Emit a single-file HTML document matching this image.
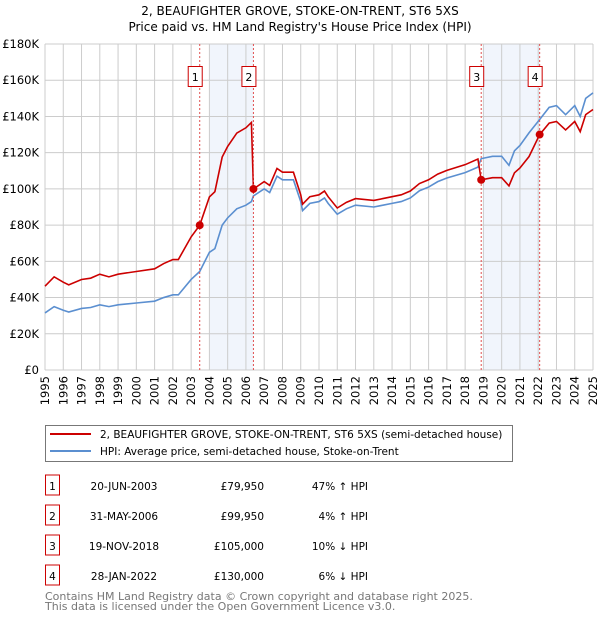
<!DOCTYPE html>
<html><head><meta charset="utf-8"><style>
body{margin:0;background:#fff;font-family:"DejaVu Sans","Liberation Sans",sans-serif;}
svg{display:block}
text{font-family:"DejaVu Sans","Liberation Sans",sans-serif;}
</style></head><body>
<svg id="c" width="600" height="620" viewBox="0 0 600 620">
<text x="300" y="15" text-anchor="middle" font-size="12">2, BEAUFIGHTER GROVE, STOKE-ON-TRENT, ST6 5XS</text>
<text x="300" y="31" text-anchor="middle" font-size="12">Price paid vs. HM Land Registry's House Price Index (HPI)</text>
<g id="grid"></g><g id="marks"></g>
<g>
<rect x="45.5" y="425.5" width="467" height="36" fill="#fff" stroke="#777"/>
<line x1="50" y1="434" x2="91" y2="434" stroke="#cc0000" stroke-width="2"/>
<text x="100" y="438" font-size="10.5">2, BEAUFIGHTER GROVE, STOKE-ON-TRENT, ST6 5XS (semi-detached house)</text>
<line x1="50" y1="451" x2="91" y2="451" stroke="#5b8fd0" stroke-width="2"/>
<text x="100" y="455" font-size="10.5">HPI: Average price, semi-detached house, Stoke-on-Trent</text>
</g>
<g id="table"></g>
<text x="45" y="600" font-size="11" fill="#777">Contains HM Land Registry data © Crown copyright and database right 2025.</text>
<text x="45" y="610" font-size="11" fill="#777">This data is licensed under the Open Government Licence v3.0.</text>
</svg>
<script>
const hpiYears=[1995,1995.5,1996,1996.3,1997,1997.5,1998,1998.5,1999,2000,2001,2001.5,2002,2002.3,2003,2003.47,2004,2004.3,2004.7,2005,2005.5,2006,2006.3,2006.41,2007,2007.3,2007.7,2008,2008.6,2009,2009.1,2009.5,2010,2010.3,2010.5,2011,2011.5,2012,2013,2013.5,2014,2014.5,2015,2015.5,2016,2016.5,2017,2018,2018.7,2018.88,2019.5,2020,2020.4,2020.7,2021,2021.5,2022.08,2022.6,2023,2023.5,2024,2024.3,2024.6,2025];
const hpiValues=[31.5,35,33,32,34,34.5,36,35,36,37,38,40,41.5,41.5,50,54.4,65,67,80,84,89,91,93,96.1,100,98,107,105,105,93,88,92,93,95,92,86,89,91,90,91,92,93,95,99,101,104,106,109,112,116.7,118,118,113,121,124,131,138.3,145,146,141,146,140,150,153];
const saleYears=[2003.47,2006.41,2018.88,2022.08];
const salePrices=[79.95,99.95,105,130];
const saleDates=["20-JUN-2003","31-MAY-2006","19-NOV-2018","28-JAN-2022"];
const salePriceLabels=["£79,950","£99,950","£105,000","£130,000"];
const salePctLabels=["47% ↑ HPI","4% ↑ HPI","10% ↓ HPI","6% ↓ HPI"];
const yTicks=[0,20,40,60,80,100,120,140,160,180];
const xTicks=[1995,1996,1997,1998,1999,2000,2001,2002,2003,2004,2005,2006,2007,2008,2009,2010,2011,2012,2013,2014,2015,2016,2017,2018,2019,2020,2021,2022,2023,2024,2025];
const X0=45,X1=593,Y0=370,Y1=44;
const xs=y=>X0+(y-1995)/30*(X1-X0);
const ys=v=>Y0-v/180*(Y0-Y1);
const NS="http://www.w3.org/2000/svg";
function mk(t,a,p){const e=document.createElementNS(NS,t);for(const k in a)e.setAttribute(k,a[k]);p.appendChild(e);return e;}
const G=document.getElementById('grid'),M=document.getElementById('marks'),T=document.getElementById('table');
function hpiAt(y){for(let i=1;i<hpiYears.length;i++){if(y<=hpiYears[i]){const t=(y-hpiYears[i-1])/(hpiYears[i]-hpiYears[i-1]);return hpiValues[i-1]+t*(hpiValues[i]-hpiValues[i-1]);}}return hpiValues[hpiValues.length-1];}
[[0,1],[2,3]].forEach((p,i)=>{const a=Math.ceil(saleYears[p[0]]);const r=mk('rect',{x:xs(a),y:Y1,width:xs(saleYears[p[1]])-xs(a),height:Y0-Y1,fill:'#eef2fb',opacity:0.8},G);

});
yTicks.forEach(v=>{const l=mk('line',{x1:X0,x2:X1,y1:ys(v),y2:ys(v),stroke:'#ccc'},G);


const t=mk('text',{x:39,y:ys(v)+4,'text-anchor':'end','font-size':11.5},G);t.textContent=v==0?'£0':'£'+v+'K';

});
xTicks.forEach(yr=>{const l=mk('line',{x1:xs(yr),x2:xs(yr),y1:Y1,y2:Y0,stroke:'#ccc'},G);


const t=mk('text',{x:0,y:0,'font-size':11.5,'text-anchor':'end',transform:`translate(${xs(yr)+4},376) rotate(-90)`},G);t.textContent=yr;

});
const ratios=salePrices.map((p,i)=>p/hpiAt(saleYears[i]));
function seg(y){let k=0;for(let i=0;i<saleYears.length;i++)if(y>=saleYears[i])k=i;return k;}
let pts=[];
const allY=[...new Set([...hpiYears,...saleYears])].sort((a,b)=>a-b);
allY.forEach(y=>{const k=seg(y);pts.push([xs(y),ys(hpiAt(y)*ratios[k])]);});
const hp=mk('polyline',{points:hpiYears.map((y,i)=>xs(y)+','+ys(hpiValues[i])).join(' '),fill:'none',stroke:'#5b8fd0','stroke-width':1.6},M);


const rp=mk('polyline',{points:pts.map(p=>p.join(',')).join(' '),fill:'none',stroke:'#cc0000','stroke-width':1.6},M);


saleYears.forEach((y,i)=>{const l=mk('line',{x1:xs(y),x2:xs(y),y1:Y1,y2:Y0,stroke:'#e05050','stroke-dasharray':'2,2','stroke-width':1},M);


const c=mk('circle',{cx:xs(y),cy:ys(salePrices[i]),r:4,fill:'#cc0000'},M);


const b=mk('rect',{x:xs(y)-11.5,y:66.5,width:14,height:20,fill:'#fff',stroke:'#cc0000'},M);


const t=mk('text',{x:xs(y)-4.5,y:81,'text-anchor':'middle','font-size':11},M);t.textContent=i+1;


const ry=483+i*30;
const rb=mk('rect',{x:45.5,y:ry-8,width:14,height:20,fill:'#fff',stroke:'#cc0000'},T);


const tn=mk('text',{x:52.5,y:ry+7,'text-anchor':'middle','font-size':10.5},T);tn.textContent=i+1;


const td=mk('text',{x:124,y:ry+7,'text-anchor':'middle','font-size':10.5},T);td.textContent=saleDates[i];


const tp=mk('text',{x:264,y:ry+7,'text-anchor':'end','font-size':10.5},T);tp.textContent=salePriceLabels[i];


const tc=mk('text',{x:368,y:ry+7,'text-anchor':'end','font-size':10.5},T);tc.textContent=salePctLabels[i];


});
</script>
</body></html>
